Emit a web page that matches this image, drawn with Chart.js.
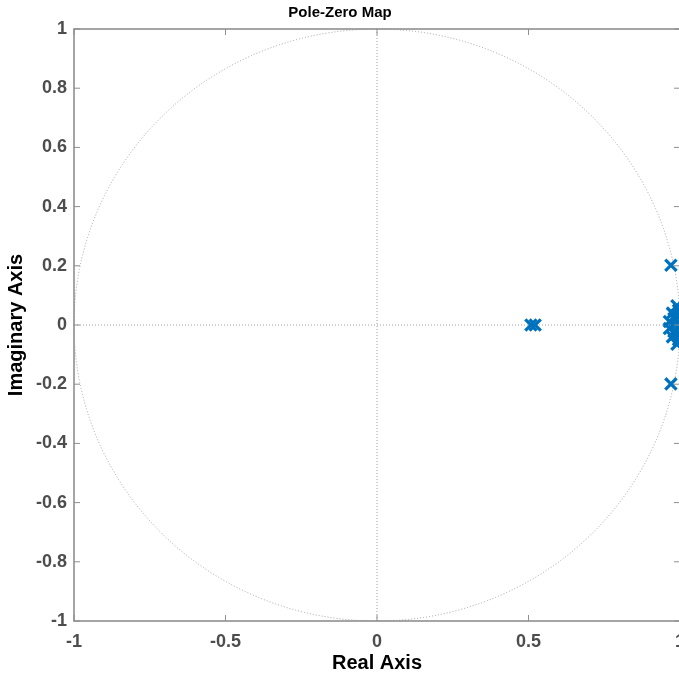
<!DOCTYPE html>
<html>
<head>
<meta charset="utf-8">
<script src="https://cdn.jsdelivr.net/npm/chart.js@4.4.0/dist/chart.umd.min.js"></script>
<style>
  html, body { margin: 0; padding: 0; background: #fff; overflow: hidden; }
  #wrap { width: 700px; height: 680px; }
</style>
</head>
<body>
<div id="wrap"><canvas id="pzChart" width="700" height="680"></canvas></div>
<script>
// Pole locations (real, imaginary)
const poleReal = [0.508, 0.522, 0.97, 0.97, 0.965, 0.965, 0.975, 0.975, 0.99, 0.99, 1.0, 1.0, 0.985, 0.98, 0.98, 0.995, 0.995];
const poleImag = [0.0, 0.0, 0.202, -0.199, 0.012, -0.012, 0.04, -0.04, 0.065, -0.065, 0.03, -0.03, 0.0, 0.022, -0.022, 0.05, -0.05];

const xTickValues = [-1, -0.5, 0, 0.5, 1];
const yTickValues = [-1, -0.8, -0.6, -0.4, -0.2, 0, 0.2, 0.4, 0.6, 0.8, 1];

const FONT = '"Liberation Sans", Arial, sans-serif';
const BLUE = '#0072BD';

// unit circle, crosshair, box and inward ticks (MATLAB look)
const pzGrid = {
  id: 'pzGrid',
  beforeDatasetsDraw(chart) {
    const { ctx, chartArea: a, scales: { x, y } } = chart;
    const cx = x.getPixelForValue(0);
    const cy = y.getPixelForValue(0);
    const rx = x.getPixelForValue(1) - cx;
    const ry = cy - y.getPixelForValue(1);
    ctx.save();
    ctx.strokeStyle = '#a0a0a0';
    ctx.lineWidth = 1;
    ctx.setLineDash([1, 2]);
    ctx.beginPath();
    ctx.ellipse(cx, cy, rx, ry, 0, 0, Math.PI * 2);
    ctx.stroke();
    ctx.beginPath();
    ctx.moveTo(cx, a.top); ctx.lineTo(cx, a.bottom);
    ctx.moveTo(a.left, cy); ctx.lineTo(a.right, cy);
    ctx.stroke();
    ctx.restore();
  },
  afterDatasetsDraw(chart) {
    const { ctx, chartArea: a, scales: { x, y } } = chart;
    ctx.save();
    ctx.strokeStyle = '#8f8f8f';
    ctx.lineWidth = 1.6;
    ctx.strokeRect(a.left, a.top, a.right - a.left, a.bottom - a.top);
    ctx.lineWidth = 1;
    ctx.beginPath();
    xTickValues.forEach(v => {
      const px = x.getPixelForValue(v);
      ctx.moveTo(px, a.bottom); ctx.lineTo(px, a.bottom - 6);
      ctx.moveTo(px, a.top); ctx.lineTo(px, a.top + 6);
    });
    yTickValues.forEach(v => {
      const py = y.getPixelForValue(v);
      ctx.moveTo(a.left, py); ctx.lineTo(a.left + 6, py);
      ctx.moveTo(a.right, py); ctx.lineTo(a.right - 6, py);
    });
    ctx.stroke();
    ctx.restore();
  }
};

new Chart(document.getElementById('pzChart'), {
  type: 'scatter',
  data: {
    datasets: [{
      label: 'Poles',
      data: poleReal.map((re, i) => ({ x: re, y: poleImag[i] })),
      pointStyle: 'crossRot',
      pointRadius: 8,
      pointBorderWidth: 3.2,
      borderColor: BLUE,
      backgroundColor: BLUE
    }]
  },
  options: {
    responsive: false,
    animation: false,
    layout: { padding: { left: 0, right: 20, top: 0, bottom: 0 } },
    plugins: {
      legend: { display: false },
      tooltip: { enabled: false },
      title: {
        display: true,
        text: 'Pole-Zero Map',
        color: '#000',
        font: { family: FONT, size: 15, weight: 'bold' },
        padding: { top: 4, bottom: 7 }
      }
    },
    scales: {
      x: {
        type: 'linear',
        min: -1, max: 1,
        grid: { display: false, drawTicks: false },
        border: { display: false },
        afterBuildTicks: s => { s.ticks = xTickValues.map(v => ({ value: v })); },
        afterFit: s => { s.height = 59; },
        ticks: {
          padding: 10,
          color: '#4d4d4d',
          font: { family: FONT, size: 18, weight: 'bold' },
          maxRotation: 0,
          callback: v => String(v)
        },
        title: {
          display: true,
          text: 'Real Axis',
          color: '#000',
          font: { family: FONT, size: 20, weight: 'bold' },
          padding: { top: 0, bottom: 5 }
        }
      },
      y: {
        type: 'linear',
        min: -1, max: 1,
        grid: { display: false, drawTicks: false },
        border: { display: false },
        afterBuildTicks: s => { s.ticks = yTickValues.map(v => ({ value: v })); },
        afterFit: s => { s.width = 74; },
        ticks: {
          padding: 7,
          color: '#4d4d4d',
          font: { family: FONT, size: 18, weight: 'bold' },
          callback: v => String(v)
        },
        title: {
          display: true,
          text: 'Imaginary Axis',
          color: '#000',
          font: { family: FONT, size: 20, weight: 'bold' },
          padding: { top: 4, bottom: 0 }
        }
      }
    }
  },
  plugins: [pzGrid]
});
</script>
</body>
</html>
